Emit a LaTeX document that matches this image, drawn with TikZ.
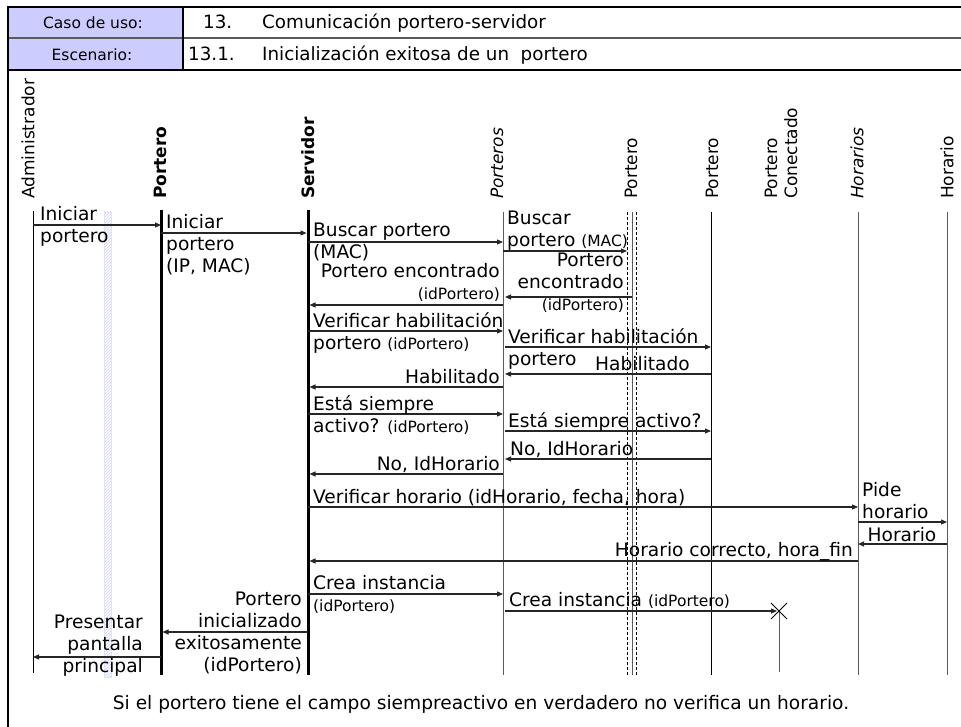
\documentclass[tikz,border=0pt]{standalone}
\usepackage{fontspec}
\setmainfont{DejaVu Sans}
\usetikzlibrary{arrows.meta,patterns}

\definecolor{lavanda}{RGB}{204,204,255}
\definecolor{linea}{RGB}{90,90,90}

\tikzset{
  msg/.style={draw=black!85, line width=1.1pt, -{Triangle[length=6pt,width=5pt]}},
  vida/.style={draw=linea, line width=1pt},
  activo/.style={draw=black, line width=3pt},
  punteado/.style={draw=black, line width=0.8pt, dash pattern=on 3pt off 2pt},
  cabeza/.style={rotate=90, anchor=west, inner sep=0pt, font=\fontsize{17}{20}\selectfont},
  txt/.style={inner sep=0pt, font=\fontsize{18.6}{22}\selectfont},
  tabla/.style={inner sep=0pt, font=\fontsize{15.5}{18}\selectfont},
  celda/.style={inner sep=0pt, font=\fontsize{18.3}{20}\selectfont},
}
\newcommand{\chico}[1]{{\fontsize{15.5}{22}\selectfont #1}}

\begin{document}
\begin{tikzpicture}[x=1pt,y=-1pt]
\useasboundingbox (0,0) rectangle (961,727);

% tabla de cabecera
\path[fill=lavanda] (8,7) rectangle (183,70);
\path[draw=linea, line width=1.5pt] (8,38) -- (961,38);
\path[draw=black, line width=1.2pt] (183,7) -- (183,70);
\path[draw=black, line width=2pt] (8,7) -- (961,7);
\path[draw=black, line width=1.5pt] (8,70) -- (961,70);
\path[draw=black, line width=2pt] (8,6) -- (8,727);
\node[tabla, anchor=base] (caso) at (93,29) {Caso de uso:};
\node[celda, anchor=base west] (num1) at (203,29) {13.};
\node[celda, anchor=base west] (cu) at (262,29) {Comunicación portero-servidor};
\node[tabla, anchor=base] (esc) at (92,61) {Escenario:};
\node[celda, anchor=base west] (num2) at (188,61) {13.1.};
\node[celda, anchor=base west] (esct) at (262,61) {Inicialización exitosa de un\ \ portero};

% objetos
\node[cabeza] (adm) at (28,199) {Administrador};
\node[cabeza] (por) at (160,199) {\bfseries Portero};
\node[cabeza] (srv) at (308,199) {\bfseries Servidor};
\node[cabeza] (pts) at (497,199) {\itshape Porteros};
\node[cabeza] (pt1) at (631,199) {Portero};
\node[cabeza] (pt2) at (712,199) {Portero};
\node[cabeza, align=left] (ptc) at (781,199) {Portero\\Conectado};
\node[cabeza] (hrs) at (857,199) {\itshape Horarios};
\node[cabeza] (hr) at (947,199) {Horario};

% lineas de vida
\coordinate (adm-t) at (33,211);  \coordinate (adm-b) at (33,673);
\coordinate (por-t) at (161,210); \coordinate (por-b) at (161,675);
\coordinate (srv-t) at (308,210); \coordinate (srv-b) at (308,675);
\coordinate (pts-t) at (503,212); \coordinate (pts-b) at (503,675);
\coordinate (pt1-t) at (627,212); \coordinate (pt1-b) at (627,675);
\coordinate (pt2-t) at (711,212); \coordinate (pt2-b) at (711,675);
\coordinate (ptc-t) at (779,611); \coordinate (ptc-b) at (779,672);
\coordinate (hrs-t) at (858,212); \coordinate (hrs-b) at (858,675);
\coordinate (hr-t) at (947,212);  \coordinate (hr-b) at (947,675);

\path[draw=blue!12, pattern=north east lines, pattern color=blue!20] (104,212) rectangle (111,677);

\path[draw=black, line width=0.9pt] (adm-t) -- (adm-b);
\path[activo] (por-t) -- (por-b);
\path[activo] (srv-t) -- (srv-b);
\path[vida] (pts-t) -- (pts-b);
\path[punteado] (pt1-t) -- (pt1-b);
\path[vida] ([xshift=5pt]pt1-t) -- ([xshift=5pt]pt1-b);
\path[punteado] ([xshift=9pt]pt1-t) -- ([xshift=9pt]pt1-b);
\path[draw=black, line width=0.9pt] (pt2-t) -- (pt2-b);
\path[vida] (ptc-t) -- (ptc-b);
\path[vida] (hrs-t) -- (hrs-b);
\path[vida] (hr-t) -- (hr-b);
\path[draw=black, line width=0.8pt] (ptc-t) +(-8,-8) -- +(8,8) +(-8,8) -- +(8,-8);

% mensajes
\coordinate (m1) at (0,225);  \coordinate (m2) at (0,233);
\coordinate (m3) at (0,242);  \coordinate (m4) at (0,251);
\coordinate (m5) at (0,297);  \coordinate (m6) at (0,305);
\coordinate (m7) at (0,331);  \coordinate (m8) at (0,347);
\coordinate (m9) at (0,374);  \coordinate (m10) at (0,387);
\coordinate (m11) at (0,414); \coordinate (m12) at (0,431);
\coordinate (m13) at (0,459); \coordinate (m14) at (0,474);
\coordinate (m15) at (0,507); \coordinate (m16) at (0,522);
\coordinate (m17) at (0,544); \coordinate (m18) at (0,561);
\coordinate (m19) at (0,594); \coordinate (m20) at (0,611);
\coordinate (m21) at (0,632); \coordinate (m22) at (0,657);

\path[msg] (adm-t |- m1) -- (por-t |- m1);
\path[msg, shorten >=1.5pt] (por-t |- m2) -- (srv-t |- m2);
\path[msg] (srv-t |- m3) -- (pts-t |- m3);
\path[msg] (pts-t |- m4) -- (pt1-t |- m4);
\path[msg] ([xshift=5pt]pt1-t |- m5) -- ([xshift=2pt]pts-t |- m5);
\path[msg, shorten >=1.5pt] (pts-t |- m6) -- (srv-t |- m6);
\path[msg] (srv-t |- m7) -- (pts-t |- m7);
\path[msg] ([xshift=2pt]pts-t |- m8) -- (pt2-t |- m8);
\path[msg] (pt2-t |- m9) -- ([xshift=2pt]pts-t |- m9);
\path[msg, shorten >=1.5pt] (pts-t |- m10) -- (srv-t |- m10);
\path[msg] (srv-t |- m11) -- (pts-t |- m11);
\path[msg] ([xshift=2pt]pts-t |- m12) -- (pt2-t |- m12);
\path[msg] (pt2-t |- m13) -- ([xshift=2pt]pts-t |- m13);
\path[msg, shorten >=1.5pt] (pts-t |- m14) -- (srv-t |- m14);
\path[msg] (srv-t |- m15) -- (hrs-t |- m15);
\path[msg] (hrs-t |- m16) -- (hr-t |- m16);
\path[msg] (hr-t |- m17) -- (hrs-t |- m17);
\path[msg, shorten >=1.5pt] (hrs-t |- m18) -- (srv-t |- m18);
\path[msg] (srv-t |- m19) -- (pts-t |- m19);
\path[msg, shorten >=2pt] ([xshift=2pt]pts-t |- m20) -- (ptc-t);
\path[msg, shorten >=1.5pt] (srv-t |- m21) -- (por-t |- m21);
\path[msg] (por-t |- m22) -- (adm-t |- m22);

% etiquetas (base = ultima linea)
\node[txt, anchor=base west, align=left] (l1) at (40,243) {Iniciar\\portero};
\node[txt, anchor=base west, align=left] (l2) at (166,273) {Iniciar\\portero\\(IP, MAC)};
\node[txt, anchor=base west, align=left] (l3) at (313,259) {Buscar portero\\(MAC)};
\node[txt, anchor=base west, align=left] (l4) at (507,247) {Buscar\\portero \chico{(MAC)}};
\node[txt, anchor=base east, align=right] (l5) at (624,311) {Portero\\encontrado\\\chico{(idPortero)}};
\node[txt, anchor=base east, align=right] (l6) at (500,300) {Portero encontrado\\\chico{(idPortero)}};
\node[txt, anchor=base west, align=left] (l7) at (313,349) {Verificar habilitación\\portero \chico{(idPortero)}};
\node[txt, anchor=base west, align=left] (l8) at (508,365) {Verificar habilitación\\portero};
\node[txt, anchor=base east] (l9) at (690,370) {Habilitado};
\node[txt, anchor=base east] (l10) at (500,383) {Habilitado};
\node[txt, anchor=base west, align=left] (l11) at (313,432) {Está siempre\\activo? \chico{(idPortero)}};
\node[txt, anchor=base west] (l12) at (508,427) {Está siempre activo?};
\node[txt, anchor=base west] (l13) at (510,455) {No, IdHorario};
\node[txt, anchor=base east] (l14) at (500,470) {No, IdHorario};
\node[txt, anchor=base west] (l15) at (313,503) {Verificar horario (idHorario, fecha, hora)};
\node[txt, anchor=base west, align=left] (l16) at (862,518) {Pide\\horario};
\node[txt, anchor=base] (l17) at (902,541) {Horario};
\node[txt, anchor=base east] (l18) at (853,556) {Horario correcto, hora\_fin};
\node[txt, anchor=base west, align=left] (l19) at (313,611) {Crea instancia\\\chico{(idPortero)}};
\node[txt, anchor=base west] (l20) at (509,606) {Crea instancia \chico{(idPortero)}};
\node[txt, anchor=base east, align=right] (l21) at (302,671) {Portero\\inicializado\\exitosamente\\(idPortero)};
\node[txt, anchor=base east, align=right] (l22) at (143,672) {Presentar\\pantalla\\principal};

\node[txt, anchor=base] (nota) at (481,709) {Si el portero tiene el campo siempreactivo en verdadero no verifica un horario.};
\end{tikzpicture}
\end{document}
